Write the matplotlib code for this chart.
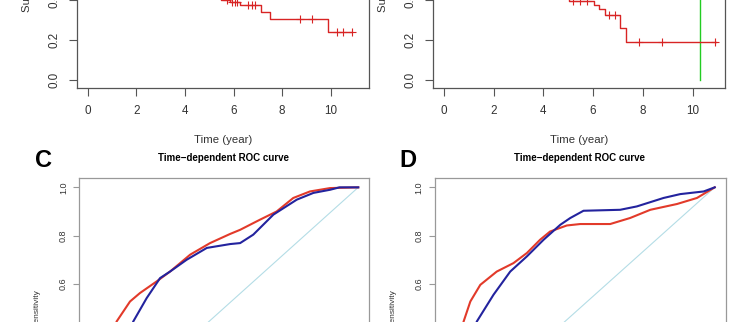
import matplotlib.pyplot as plt
import numpy as np

plt.rcParams['font.family'] = ['Liberation Sans', 'DejaVu Sans']

W, H = 754, 322

# Kaplan-Meier panel A (upper part cropped away)
km_a_times = [0, 1.2, 2.1, 2.9, 3.6, 4.3, 4.9, 5.5, 5.85, 6.26, 7.11, 7.52, 9.90, 10.86]
km_a_surv = [1.0, 0.95, 0.88, 0.80, 0.71, 0.62, 0.52, 0.40, 0.39, 0.375, 0.338, 0.303, 0.238, 0.238]
km_a_censor = [5.75, 5.95, 6.05, 6.15, 6.6, 6.75, 6.9, 8.73, 9.21, 10.24, 10.52, 10.86]

# Kaplan-Meier panel B
km_b_times = [0, 1.0, 1.9, 2.7, 3.5, 4.2, 4.8, 5.05, 6.02, 6.22, 6.46, 7.09, 7.32, 10.95]
km_b_surv = [1.0, 0.96, 0.90, 0.82, 0.72, 0.63, 0.52, 0.395, 0.375, 0.353, 0.325, 0.258, 0.19, 0.19]
km_b_censor = [5.21, 5.48, 5.75, 6.62, 6.89, 7.83, 8.75, 10.9]
km_b_green_times = [0, 10.3]
km_b_green_surv = [1.0, 0.0]

time_ticks = [0, 2, 4, 6, 8, 10]
prob_ticks = [0.0, 0.2, 0.4, 0.6, 0.8, 1.0]

# ROC panel C
roc_c_red_fpr = [0, 0.03, 0.07, 0.100, 0.150, 0.187, 0.249, 0.299, 0.374, 0.448, 0.523,
                 0.560, 0.634, 0.696, 0.758, 0.820, 0.895, 1.0]
roc_c_red_tpr = [0, 0.12, 0.30, 0.444, 0.527, 0.562, 0.610, 0.651, 0.721, 0.769, 0.807,
                 0.824, 0.866, 0.900, 0.956, 0.983, 0.997, 1.0]
roc_c_blue_fpr = [0, 0.05, 0.11, 0.162, 0.212, 0.262, 0.299, 0.361, 0.436, 0.485, 0.523,
                  0.560, 0.609, 0.684, 0.771, 0.833, 0.895, 0.93, 1.0]
roc_c_blue_tpr = [0, 0.10, 0.28, 0.444, 0.541, 0.624, 0.651, 0.700, 0.749, 0.758, 0.765,
                  0.769, 0.804, 0.887, 0.949, 0.977, 0.990, 1.0, 1.0]

# ROC panel D
roc_d_red_fpr = [0, 0.02, 0.045, 0.068, 0.093, 0.130, 0.191, 0.253, 0.303, 0.352, 0.389,
                 0.451, 0.501, 0.612, 0.686, 0.761, 0.860, 0.934, 1.0]
roc_d_red_tpr = [0, 0.15, 0.32, 0.444, 0.527, 0.596, 0.651, 0.686, 0.728, 0.783, 0.817,
                 0.842, 0.848, 0.848, 0.873, 0.907, 0.931, 0.956, 1.0]
roc_d_blue_fpr = [0, 0.04, 0.08, 0.117, 0.179, 0.241, 0.303, 0.365, 0.427, 0.464, 0.513,
                  0.649, 0.711, 0.810, 0.872, 0.959, 1.0]
roc_d_blue_tpr = [0, 0.12, 0.30, 0.444, 0.555, 0.651, 0.714, 0.783, 0.845, 0.873, 0.903,
                  0.907, 0.921, 0.956, 0.972, 0.983, 1.0]


def px_axes(fig, left, right, top, bottom):
  return fig.add_axes([left / W, (H - bottom) / H, (right - left) / W, (bottom - top) / H])


def style(ax, frame, size, tlen, pad):
  for s in ax.spines.values():
    s.set_color(frame)
    s.set_linewidth(0.9)
  ax.tick_params(colors=frame, labelcolor="#333333", labelsize=size,
                 length=tlen, width=0.8, pad=pad)
  for lab in ax.get_yticklabels():
    lab.set_rotation(90)
    lab.set_va("center")


def km_panel(ax, times, surv, censor, xlim):
  ax.step(times, surv, where="post", color="#d82424", lw=1.0)
  idx = np.searchsorted(times, censor, side="right") - 1
  ax.plot(censor, np.array(surv)[idx], ls="none", marker="+", ms=6, mew=0.8, color="#d82424")
  ax.set_xlim(*xlim)
  ax.set_ylim(-0.04, 1.04)
  ax.set_xticks(time_ticks)
  ax.set_yticks(prob_ticks)
  ax.set_yticklabels([f"{v:.1f}" for v in prob_ticks])
  style(ax, "#555555", 8.4, 5.5, 6.5)
  ax.set_xlabel("Time (year)", fontsize=8.2, color="#333333", labelpad=13)
  ax.set_ylabel("Survival rate", fontsize=8.2, color="#333333", labelpad=12)


def roc_panel(ax, red, blue, letter, lx):
  ax.plot([0, 1], [0, 1], color="#b4dde6", lw=0.8)
  ax.plot(*red, color="#e23a2a", lw=1.5)
  ax.plot(*blue, color="#23239e", lw=1.5)
  ax.set_xlim(-0.04, 1.04)
  ax.set_ylim(-0.04, 1.04)
  ax.set_yticks(prob_ticks)
  ax.set_yticklabels([f"{v:.1f}" for v in prob_ticks])
  style(ax, "#999999", 6.5, 4.5, 3.5)
  ax.set_title("Time\u2212dependent ROC curve", fontsize=7, fontweight="bold", pad=12)
  ax.set_ylabel("Sensitivity", fontsize=6, color="#333333", labelpad=13)
  ax.get_figure().text(lx / W, (H - 167) / H, letter, fontsize=17, fontweight="bold",
                       va="baseline", ha="left")


fig = plt.figure(figsize=(W / 100, H / 100), dpi=100)

ax_a = px_axes(fig, 77, 369, -128, 88)
km_panel(ax_a, km_a_times, km_a_surv, km_a_censor, (-0.445, 11.575))

ax_b = px_axes(fig, 433, 725, -128, 88)
ax_b.step(km_b_green_times, km_b_green_surv, where="post", color="#22cc22", lw=1.0)
km_panel(ax_b, km_b_times, km_b_surv, km_b_censor, (-0.435, 11.3))

ax_c = px_axes(fig, 79, 369, 177.7, 438.3)
roc_panel(ax_c, (roc_c_red_fpr, roc_c_red_tpr), (roc_c_blue_fpr, roc_c_blue_tpr), "C", 35)

ax_d = px_axes(fig, 434.5, 725.5, 177.7, 438.3)
roc_panel(ax_d, (roc_d_red_fpr, roc_d_red_tpr), (roc_d_blue_fpr, roc_d_blue_tpr), "D", 399)

fig.savefig("out.png", dpi=100)
